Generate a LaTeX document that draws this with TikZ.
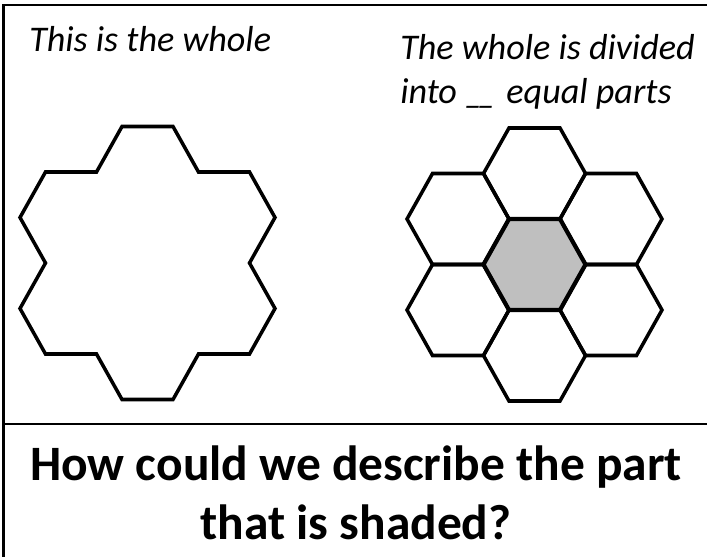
\documentclass[tikz,border=0pt]{standalone}
\usepackage{fontspec}
\setmainfont{Carlito}
\usetikzlibrary{calc}

\begin{document}
\begin{tikzpicture}[x=0.25mm, y=0.25mm,
    hexcell/.style={draw=black, line width=2.5pt, line join=miter},
    midcell/.style={hexcell, fill=black!25, line width=3pt},
    frameline/.style={black, line width=1.6pt},
    lead/.style={font=\fontsize{25.7}{31.5}\selectfont\itshape, align=left, inner sep=0pt},
    ask/.style={font=\fontsize{35.2}{42}\selectfont\bfseries, align=center, inner sep=0pt}
  ]
  \useasboundingbox[fill=white] (0,0) rectangle (707,556);

  % Frame
  \draw[frameline] (710,551) -- (3.5,551) -- (3.5,-3);
  \draw[frameline] (3.5,132) -- (710,132);

  % Captions
  \node[lead, anchor=base west] (whole) at (29,504) {This is the whole};
  \node[lead, anchor=north west] (parts) at (400,522) {The whole is divided\\into \_\kern-3.5pt\_\kern1.5pt{} equal parts};

  % The whole
  \coordinate (midL) at (147.5,293);
  \draw[hexcell, shift={(midL)}]
    (-25.5,136.5) -- (25.5,136.5) -- (51,91) -- (102,91) -- (127.5,45.5)
    -- (102,0) -- (127.5,-45.5) -- (102,-91) -- (51,-91) -- (25.5,-136.5)
    -- (-25.5,-136.5) -- (-51,-91) -- (-102,-91) -- (-127.5,-45.5)
    -- (-102,0) -- (-127.5,45.5) -- (-102,91) -- (-51,91) -- cycle;

  % The parts
  \coordinate (midR) at (534.5,291.5);
  \foreach \dx/\dy in {0/91, 76.5/45.5, 76.5/-45.5, 0/-91, -76.5/-45.5, -76.5/45.5}
    \draw[hexcell] ($(midR)+(\dx,\dy)$) ++(51,0) -- ++(-25.5,45.5) -- ++(-51,0)
      -- ++(-25.5,-45.5) -- ++(25.5,-45.5) -- ++(51,0) -- cycle;
  \draw[midcell] (midR) ++(51,0) -- ++(-25.5,45.5) -- ++(-51,0)
    -- ++(-25.5,-45.5) -- ++(25.5,-45.5) -- ++(51,0) -- cycle;

  % Question
  \node[ask, anchor=north] (question) at (356,111) {How could we describe the part\\that is shaded?};
\end{tikzpicture}
\end{document}
